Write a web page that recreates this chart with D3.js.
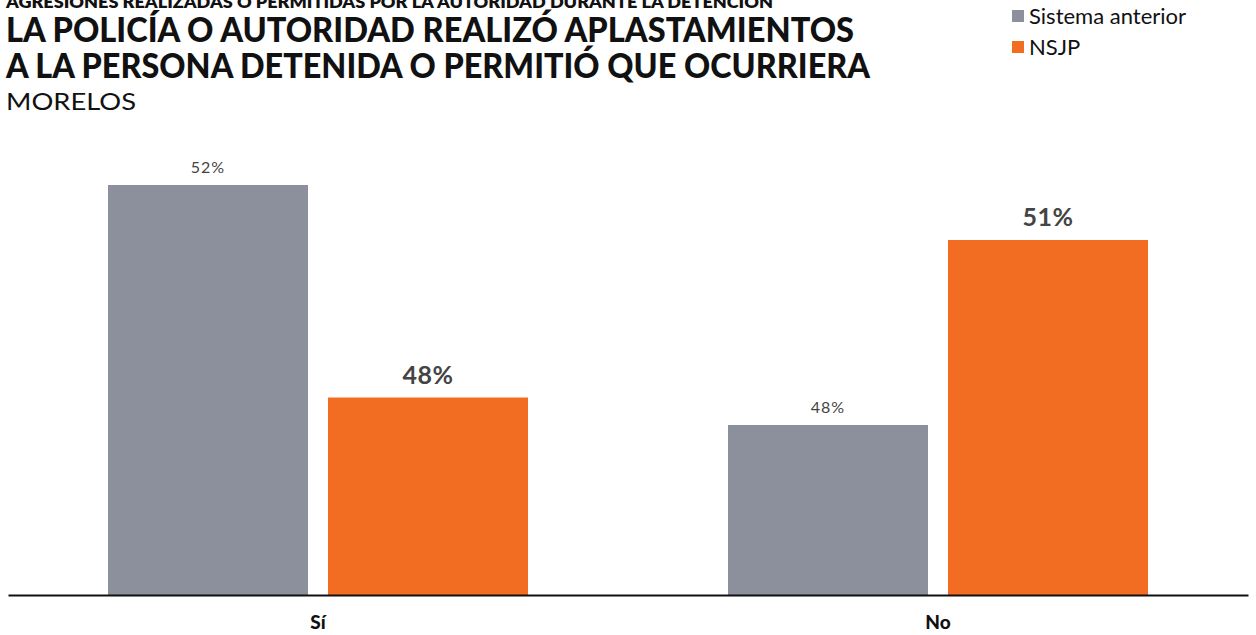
<!DOCTYPE html>
<html>
<head>
<meta charset="utf-8">
<script src="https://cdn.jsdelivr.net/npm/d3@7"></script>
<style>
  body { margin: 0; background: #fff; }
  svg { display: block; font-family: Lato, "Open Sans", sans-serif; }
</style>
</head>
<body>
<div id="chart"></div>
<script>
// Categories on the x-axis
const categories = ["Sí", "No"];

// Series names
const seriesNames = ["Sistema anterior", "NSJP"];

// Values (percent), per series
const sistemaAnterior = [52.4, 47.6];
const nsjp = [48.15, 51.3];

// Labels printed above bars
const sistemaLabels = ["52%", "48%"];
const nsjpLabels = ["48%", "51%"];

const colors = ["#8c909c", "#f26c21"];

const width = 1256, height = 635;
const margin = { top: 155, right: 8, bottom: 40, left: 8 };

const svg = d3.select("#chart").append("svg")
    .attr("width", width)
    .attr("height", height);

// Titles (squeezed to the width of the original's condensed face)
function title(text, x, y, size, weight, len) {
    svg.append("text").attr("x", x).attr("y", y)
        .attr("font-size", size).attr("font-weight", weight).attr("fill", "#111")
        .attr("textLength", len).attr("lengthAdjust", "spacingAndGlyphs")
        .text(text);
}
title("AGRESIONES REALIZADAS O PERMITIDAS POR LA AUTORIDAD DURANTE LA DETENCIÓN", 6, 8, 16, 800, 767);
title("LA POLICÍA O AUTORIDAD REALIZÓ APLASTAMIENTOS", 6, 42, 34, 900, 848);
title("A LA PERSONA DETENIDA O PERMITIÓ QUE OCURRIERA", 6, 78, 34, 900, 864);
title("MORELOS", 6, 110, 23, 400, 130);

// Legend
const legend = svg.append("g").attr("transform", "translate(1012, 10)");
seriesNames.forEach((name, i) => {
    legend.append("rect").attr("x", 0).attr("y", i * 31).attr("width", 12).attr("height", 12)
        .attr("fill", colors[i]);
    legend.append("text").attr("x", 17).attr("y", i * 31 + 14)
        .attr("font-size", 22).attr("fill", "#111")
        .text(name);
});

// Scales
const x0 = d3.scaleBand()
    .domain(categories)
    .range([margin.left, width - margin.right]);

const x1 = d3.scaleBand()
    .domain(seriesNames)
    .range([100, x0.bandwidth() - 100])
    .paddingInner(20 / 220);

const y = d3.scaleLinear()
    .domain([44.2, 53])
    .range([height - margin.bottom, margin.top]);

const seriesValues = [sistemaAnterior, nsjp];
const seriesLabels = [sistemaLabels, nsjpLabels];

// Bars
categories.forEach((cat, ci) => {
    const g = svg.append("g").attr("transform", `translate(${x0(cat)},0)`);
    seriesNames.forEach((name, si) => {
        const v = seriesValues[si][ci];
        g.append("rect")
            .attr("x", x1(name))
            .attr("y", y(v))
            .attr("width", x1.bandwidth())
            .attr("height", y.range()[0] - y(v))
            .attr("fill", colors[si]);
        const bold = si === 1;
        g.append("text")
            .attr("x", x1(name) + x1.bandwidth() / 2)
            .attr("y", y(v) - (bold ? 14 : 12))
            .attr("text-anchor", "middle")
            .attr("font-size", bold ? 25 : 16)
            .attr("font-weight", bold ? 700 : 400)
            .attr("letter-spacing", bold ? 0.5 : 1)
            .attr("fill", "#444")
            .text(seriesLabels[si][ci]);
    });
});

// X axis
const xAxis = svg.append("g")
    .attr("transform", `translate(0,${height - margin.bottom})`)
    .call(d3.axisBottom(x0).tickSize(0).tickSizeOuter(0));
xAxis.select(".domain").attr("stroke", "#111").attr("stroke-width", 2);
xAxis.selectAll(".tick text")
    .attr("dy", 0).attr("y", 34)
    .attr("font-family", "Lato, sans-serif")
    .attr("font-size", 19).attr("font-weight", 900).attr("fill", "#111");
</script>
</body>
</html>
